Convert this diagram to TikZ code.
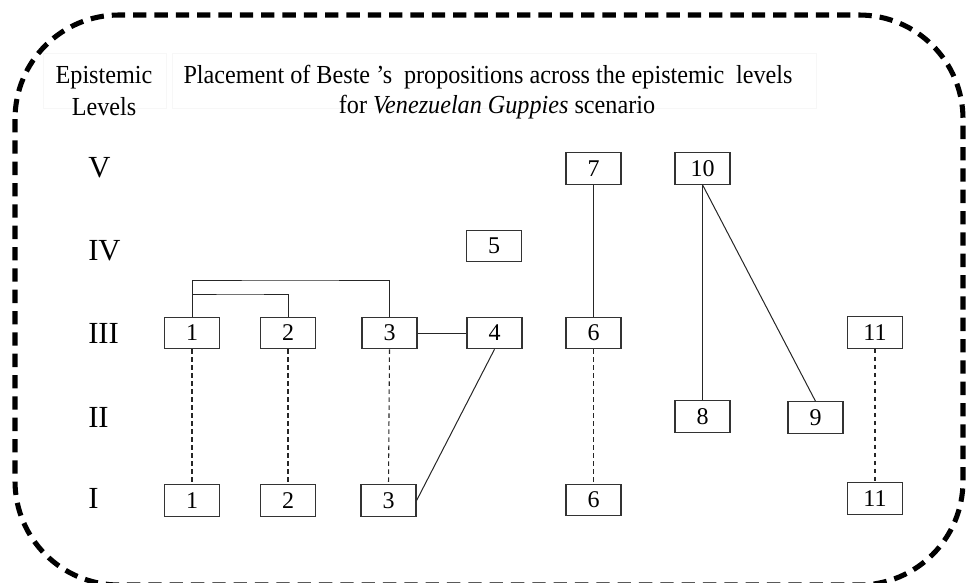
\documentclass[tikz,border=0pt]{standalone}
\usepackage{fontspec}
\setmainfont{Liberation Serif}
\newfontfamily\headfont[FakeStretch=0.93]{Liberation Serif}
\begin{document}
\begin{tikzpicture}[x=0.75pt,y=-0.75pt,
  prop/.style={draw=black!80,line width=0.9pt,minimum width=41.25pt,minimum height=23.5pt,
    inner sep=0pt,font=\fontsize{18}{20}\selectfont},
  link/.style={draw=black!85,line width=0.75pt},
  sameprop/.style={draw=black!85,line width=0.8pt,dash pattern=on 3.5pt off 2.5pt},
  lvl/.style={anchor=base west,inner sep=0pt,font=\fontsize{23}{26}\selectfont},
  head/.style={anchor=base,inner sep=0pt,font=\headfont\fontsize{19.5}{22}\selectfont},
  frame/.style={draw=black,line width=3.8pt,dash pattern=on 10pt off 6pt,rounded corners=78pt}]
\useasboundingbox (0,0) rectangle (966,582);

% outer dashed frame
\draw[frame] (15,15) rectangle (963,585);

% faint header table
\draw[black!3,line width=0.6pt] (43,53) rectangle (166,108);
\draw[black!3,line width=0.6pt] (172,53) rectangle (816,108);

% header texts
\node[head] (hA) at (104,83) {Epistemic};
\node[head] (hB) at (104,115) {Levels};
\node[head] (hC) at (488,83) {Placement of Beste ’s\hspace{0.45em}propositions across the epistemic\hspace{0.45em}levels};
\node[head] (hD) at (497,113) {for \textit{Venezuelan Guppies} scenario};

% level labels
\node[lvl] (L5) at (88,177) {V};
\node[lvl] (L4) at (88,260) {IV};
\node[lvl] (L3) at (88,343) {III};
\node[lvl] (L2) at (88,427) {II};
\node[lvl] (L1) at (88,508) {I};

% level V
\node[prop] (p7)  at (593.5,168.5) {7};
\node[prop] (p10) at (702.5,168.5) {10};
% level IV
\node[prop] (p5)  at (494,246) {5};
% level III
\node[prop] (a1)  at (192,333) {1};
\node[prop] (a2)  at (288,333) {2};
\node[prop] (a3)  at (389.5,333) {3};
\node[prop] (a4)  at (494.5,333) {4};
\node[prop] (a6)  at (593.5,333) {6};
\node[prop] (a11) at (875,332.5) {11};
% level II
\node[prop] (p8)  at (702.5,416.5) {8};
\node[prop] (p9)  at (815.5,417.5) {9};
% level I
\node[prop] (b1)  at (192,500.5) {1};
\node[prop] (b2)  at (288,500.5) {2};
\node[prop] (b3)  at (388.5,500.5) {3};
\node[prop] (b6)  at (593.5,500) {6};
\node[prop] (b11) at (875,498.5) {11};

% bracket connectors above level III
\coordinate (t13) at (290,280);
\coordinate (t12) at (240,294);
\draw[link] (a1.north) |- (t13) -| (a3.north);
\draw[link] (a1.north) |- (t12) -| (a2.north);

% solid connectors
\draw[link] (a3.east) -- (a4.west);
\draw[link] (a4.south) -- (b3.east);
\draw[link] (p7.south) -- (a6.north);
\draw[link] (p10.south) -- (p8.north);
\draw[link] (p10.south) -- (p9.north);

% same proposition on two levels
\draw[sameprop] (a1.south) -- (b1.north);
\draw[sameprop] (a2.south) -- (b2.north);
\draw[sameprop] (a3.south) -- (b3.north);
\draw[sameprop] (a6.south) -- (b6.north);
\draw[sameprop] (a11.south) -- (b11.north);
\end{tikzpicture}
\end{document}
